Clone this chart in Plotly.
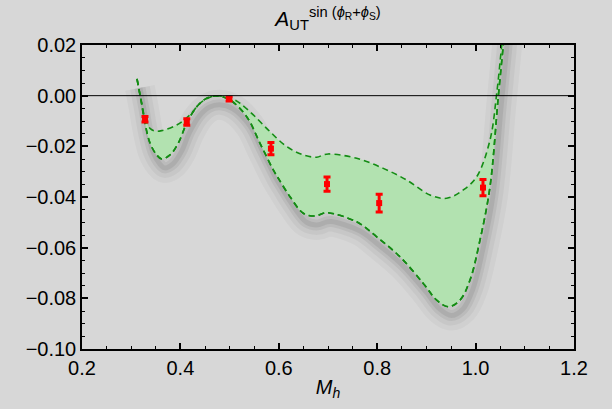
import plotly.graph_objects as go

# Data
upper_x = [0.3118, 0.3213, 0.3280, 0.3382, 0.3484, 0.3620, 0.3925, 0.4195, 0.4398, 0.4602,
           0.4805, 0.5075, 0.5211, 0.5482, 0.5821, 0.6161, 0.6498, 0.6770, 0.6904, 0.7006,
           0.7583, 0.8124, 0.8600, 0.9073, 0.9413, 0.9750, 1.0022, 1.0293, 1.0429, 1.0531, 1.0580]
upper_y = [0.0066, -0.0030, -0.0089, -0.0129, -0.0140, -0.0138, -0.0116, -0.0076, -0.0030, -0.0006,
           -0.0001, -0.0014, -0.0030, -0.0076, -0.0142, -0.0201, -0.0234, -0.0243, -0.0234, -0.0230,
           -0.0247, -0.0287, -0.0333, -0.0392, -0.0405, -0.0372, -0.0320, -0.0175, 0.0009, 0.0200, 0.0300]

lower_x = [0.3118, 0.3199, 0.3280, 0.3382, 0.3518, 0.3620, 0.3789, 0.3957, 0.4128, 0.4331,
           0.4535, 0.4738, 0.5008, 0.5348, 0.5618, 0.5888, 0.5990, 0.6228, 0.6498, 0.6736,
           0.6904, 0.7006, 0.7583, 0.7990, 0.8463, 0.8937, 0.9209, 0.9445, 0.9683, 0.9886,
           1.0089, 1.0293, 1.0461, 1.0563, 1.0610]
lower_y = [0.0066, -0.0017, -0.0108, -0.0187, -0.0234, -0.0250, -0.0234, -0.0187, -0.0109, -0.0044,
           -0.0010, -0.0001, -0.0017, -0.0083, -0.0188, -0.0293, -0.0326, -0.0399, -0.0464, -0.0475,
           -0.0464, -0.0462, -0.0498, -0.0557, -0.0636, -0.0741, -0.0807, -0.0833, -0.0807, -0.0728,
           -0.0570, -0.0359, -0.0004, 0.0200, 0.0300]

data_x = [0.328, 0.413, 0.499, 0.584, 0.698, 0.804, 1.015]
data_y = [-0.0093, -0.0104, -0.0013, -0.0209, -0.0349, -0.0424, -0.0363]
data_err = [0.0011, 0.0013, 0.0008, 0.0024, 0.0028, 0.0035, 0.0032]

x_ticks = [0.2, 0.4, 0.6, 0.8, 1.0, 1.2]
x_tick_labels = ["0.2", "0.4", "0.6", "0.8", "1.0", "1.2"]
y_ticks = [0.02, 0.0, -0.02, -0.04, -0.06, -0.08, -0.10]
y_tick_labels = ["0.02", "0.00", "\u22120.02", "\u22120.04", "\u22120.06", "\u22120.08", "\u22120.10"]

fill_color = "rgb(178,226,176)"
line_color = "rgb(20,140,20)"
bg = "rgb(215,215,215)"
font_family = "Liberation Sans, Arial, sans-serif"

fig = go.Figure()

# soft drop shadow under the band (Mathematica-style), shifted down and right
shadow_x = [v + 0.006 for v in lower_x]
shadow_y = [v - 0.0035 for v in lower_y]
for w, a in [(30, 0.03), (20, 0.04), (11, 0.06), (5, 0.07)]:
    fig.add_trace(go.Scatter(x=shadow_x, y=shadow_y, mode="lines",
                             line=dict(color=f"rgba(0,0,0,{a})", width=w, shape="spline"),
                             hoverinfo="skip", showlegend=False))

# lower curve first, then upper filled to it
fig.add_trace(go.Scatter(x=lower_x, y=lower_y, mode="lines",
                         line=dict(color=line_color, width=1.6, dash="6px,4px", shape="spline"),
                         hoverinfo="skip", showlegend=False))
fig.add_trace(go.Scatter(x=upper_x, y=upper_y, mode="lines", fill="tonexty", fillcolor=fill_color,
                         line=dict(color=line_color, width=1.6, dash="6px,4px", shape="spline"),
                         hoverinfo="skip", showlegend=False))
# redraw lower dashed on top of fill
fig.add_trace(go.Scatter(x=lower_x, y=lower_y, mode="lines",
                         line=dict(color=line_color, width=1.6, dash="6px,4px", shape="spline"),
                         hoverinfo="skip", showlegend=False))

fig.add_trace(go.Scatter(x=data_x, y=data_y, mode="markers",
                         marker=dict(symbol="square", size=6, color="red"),
                         error_y=dict(type="data", array=data_err, color="red", thickness=3, width=3.5),
                         showlegend=False))

fig.add_hline(y=0, line=dict(color="black", width=1))

axis_common = dict(showline=True, linecolor="black", linewidth=1.5, mirror="ticks",
                   ticks="inside", ticklen=6, tickwidth=1.5, tickcolor="black",
                   showgrid=False, zeroline=False,
                   tickfont=dict(family=font_family, size=20, color="black"))

fig.update_xaxes(range=[0.2, 1.2], tickvals=x_ticks, ticktext=x_tick_labels,
                 minor=dict(dtick=0.05, ticks="inside", ticklen=3, tickwidth=1.2, tickcolor="black"),
                 title=dict(text="<i>M<sub>h</sub></i>", font=dict(family=font_family, size=20, color="black"),
                            standoff=2),
                 **axis_common)
fig.update_yaxes(range=[-0.10, 0.02], tickvals=y_ticks, ticktext=y_tick_labels,
                 minor=dict(dtick=0.005, ticks="inside", ticklen=3, tickwidth=1.2, tickcolor="black"),
                 **axis_common)

fig.update_layout(
    width=612, height=409,
    margin=dict(l=82, r=38, t=45, b=60),
    paper_bgcolor=bg, plot_bgcolor=bg,
    title=dict(text="<i>A</i><sub>UT</sub><sup>sin (<i>\u03d5</i><sub>R</sub>+<i>\u03d5</i><sub>S</sub>)</sup>",
               x=0.536, xanchor="center", y=0.955, yanchor="middle",
               font=dict(family=font_family, size=21, color="black")),
)

fig.write_html("out.html")
